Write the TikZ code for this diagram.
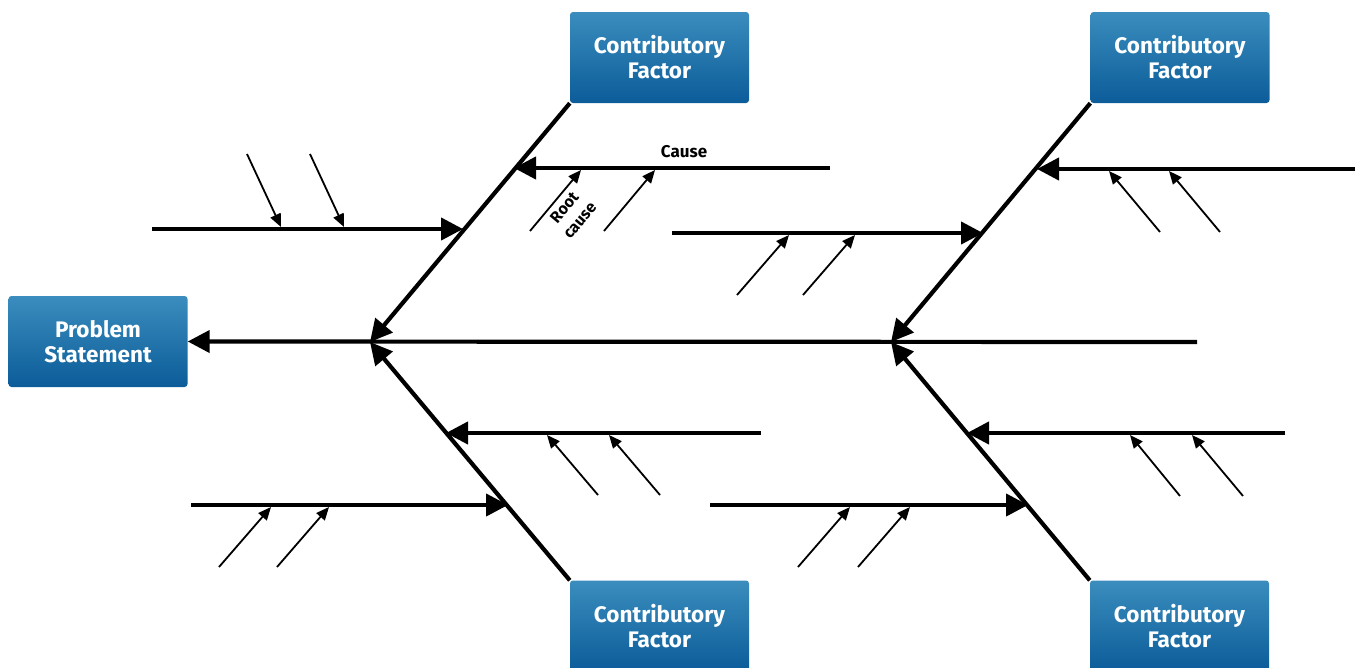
\documentclass[tikz,border=0pt]{standalone}
\usepackage{fontspec}
\setmainfont{Fira Sans}
\usetikzlibrary{arrows.meta}
\definecolor{boxtop}{HTML}{3A8DBD}
\definecolor{boxbot}{HTML}{0B5C99}
\tikzset{
  fbox/.style={rounded corners=3pt, top color=boxtop, bottom color=boxbot, draw=none,
    minimum width=179pt, minimum height=91pt, text=white, align=center,
    font=\fontsize{22.5}{25}\selectfont\bfseries, inner sep=0pt},
  bone/.style={line width=4.2pt, -{Triangle[length=22pt,width=22pt]}},
  sub/.style={line width=1.8pt, -{Triangle[length=13pt,width=11pt]}},
  lbl/.style={font=\fontsize{17}{19}\selectfont\bfseries, inner sep=0pt}
}
\begin{document}
\begin{tikzpicture}[x=1pt,y=-1pt]
\useasboundingbox (0,0) rectangle (1362,667);
% boxes
\node[fbox] (ps) at (98,341.5) {Problem\\Statement};
\node[fbox] (cf1) at (659.5,57.5) {Contributory\\Factor};
\node[fbox] (cf2) at (1180,57.5) {Contributory\\Factor};
\node[fbox] (cf3) at (659.5,626) {Contributory\\Factor};
\node[fbox] (cf4) at (1179.5,626) {Contributory\\Factor};
% spine
\coordinate (se) at (1197,342);
\coordinate (j1) at (370,342);
\coordinate (j2) at (891,342);
\draw[bone] (se) -- (ps.east);
% diagonal bones
\draw[bone] (cf1.south west) -- (j1);
\draw[bone] (cf3.north west) -- (j1);
\draw[bone] (cf2.south west) -- (j2);
\draw[bone] (cf4.north west) -- (j2);
% horizontal causes
\coordinate (a1s) at (152,229); \coordinate (a1e) at (463,229);
\coordinate (a2s) at (830,168); \coordinate (a2e) at (514,168);
\coordinate (a3s) at (672,233); \coordinate (a3e) at (983,233);
\coordinate (a4s) at (1355,169); \coordinate (a4e) at (1037,169);
\coordinate (a5s) at (761,433); \coordinate (a5e) at (446,433);
\coordinate (a6s) at (191,505); \coordinate (a6e) at (508,505);
\coordinate (a7s) at (1285,433); \coordinate (a7e) at (967,433);
\coordinate (a8s) at (710,505); \coordinate (a8e) at (1028,505);
\foreach \i in {1,...,8} \draw[bone] (a\i s) -- (a\i e);
% small root cause arrows
\coordinate (r1s) at (247,154); \coordinate (r1e) at (281,227);
\coordinate (r2s) at (310,154); \coordinate (r2e) at (344,227);
\coordinate (r3s) at (530,231); \coordinate (r3e) at (581,170);
\coordinate (r4s) at (604,231); \coordinate (r4e) at (655,170);
\coordinate (r5s) at (737,295); \coordinate (r5e) at (789,235);
\coordinate (r6s) at (803,295); \coordinate (r6e) at (855,235);
\coordinate (r7s) at (1160,232); \coordinate (r7e) at (1109,171);
\coordinate (r8s) at (1220,232); \coordinate (r8e) at (1169,171);
\coordinate (r9s) at (598,495); \coordinate (r9e) at (547,435);
\coordinate (r10s) at (660,495); \coordinate (r10e) at (609,435);
\coordinate (r11s) at (219,567); \coordinate (r11e) at (271,507);
\coordinate (r12s) at (277,567); \coordinate (r12e) at (329,507);
\coordinate (r13s) at (1180,496); \coordinate (r13e) at (1130,435);
\coordinate (r14s) at (1243,496); \coordinate (r14e) at (1192,435);
\coordinate (r15s) at (798,567); \coordinate (r15e) at (850,507);
\coordinate (r16s) at (858,567); \coordinate (r16e) at (910,507);
\foreach \i in {1,...,16} \draw[sub] (r\i s) -- (r\i e);
% labels
\node[lbl] (cause) at (684,152) {Cause};
\node[lbl, rotate=50, align=center, font=\fontsize{16}{20}\selectfont\bfseries] (root) at (572,214) {Root\\cause};
\end{tikzpicture}
\end{document}
